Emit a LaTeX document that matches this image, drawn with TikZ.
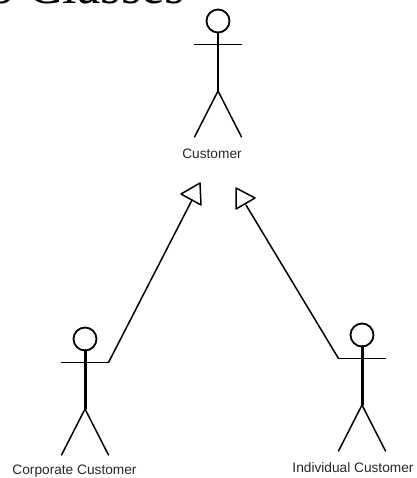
\documentclass[tikz,border=0pt]{standalone}
\usepackage{fontspec}
\setmainfont{Liberation Serif}
\setsansfont{Liberation Sans}
\usepackage{color}
\tikzset{
  limb/.style={line width=1.5pt},
  actorlabel/.style={font=\sffamily\fontsize{13.7}{15}\selectfont,inner sep=0pt,text=black!85},
  inherit/.style={line width=1.5pt}
}
% one stick figure: name, x, y of the middle of the head, width of the body
\newcommand{\stickman}[4]{
\draw[line width=1.8pt] (#2,#3) circle [radius = 11.5];
\draw[line width=1.3pt] (#2-23.5,#3+23.5) -- (#2+23.5,#3+23.5);
\draw[line width=#4] (#2,#3+11.5) -- (#2,#3+70);
\draw[limb] (#2-23.5,#3+116) -- (#2,#3+70) -- (#2+23.5,#3+116);
\coordinate (#1 left) at (#2-23.5,#3+23.5);
\coordinate (#1 right) at (#2+23.5,#3+23.5);
}
\begin{document}
\begin{tikzpicture}[line cap=round,line join=round,x=1pt,y=-1pt]
\useasboundingbox (0,0) rectangle (416,478);
\begin{scope}
\clip (0,0) rectangle (416,478);
\node [anchor=base west,inner sep=0pt,font=\fontsize{52.6}{60}\selectfont] (heading) at (-12,4) {o Classes};
\end{scope}

%hahmot
\stickman{customer}{218}{21}{1.7pt}
\stickman{corporate}{85}{339}{3pt}
\stickman{individual}{362}{335}{3pt}
\node [actorlabel] (customerlabel) at (212,154) {Customer};
\node [actorlabel] (corporatelabel) at (74.5,471) {Corporate Customer};
\node [actorlabel] (individuallabel) at (353,468) {Individual Customer};

%nuolet
\coordinate (leftfoot) at (192,200);
\coordinate (rightfoot) at (246,205);
\draw[inherit] (corporate right) -- (leftfoot);
\draw[inherit] (individual left) -- (rightfoot);
\draw[inherit] (181,194) -- (200,183) -- (201,205) -- cycle;
\draw[inherit] (236,188) -- (255,198) -- (236,209) -- cycle;
\end{tikzpicture}
\end{document}
